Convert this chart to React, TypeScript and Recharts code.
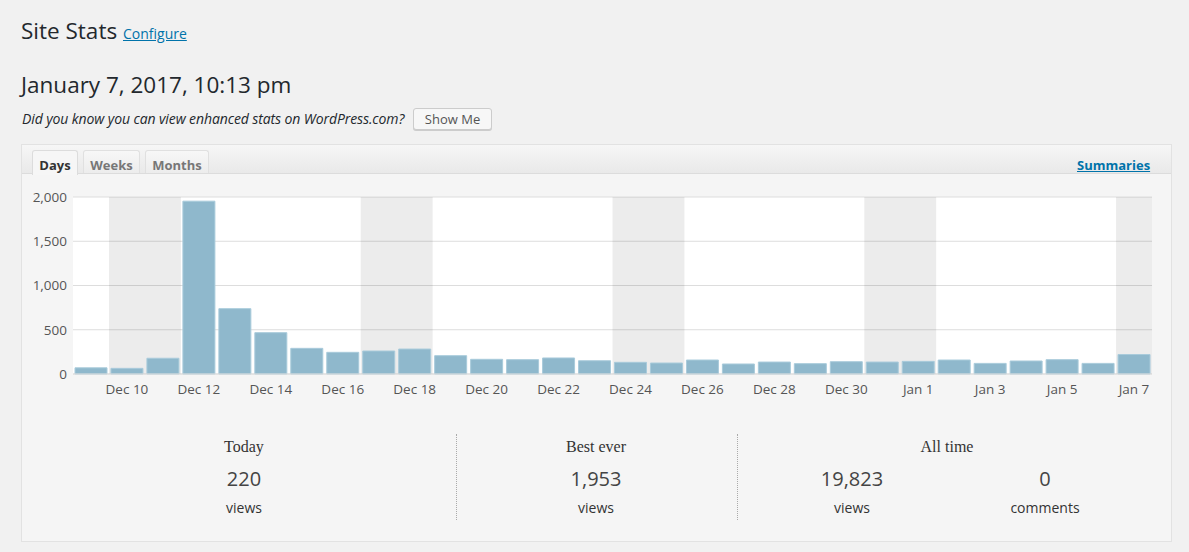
import React from 'react';
import { BarChart, Bar, XAxis, YAxis, CartesianGrid, ReferenceArea } from 'recharts';

const dayLabels = [
  'Dec 9', 'Dec 10', 'Dec 11', 'Dec 12', 'Dec 13', 'Dec 14', 'Dec 15', 'Dec 16', 'Dec 17', 'Dec 18',
  'Dec 19', 'Dec 20', 'Dec 21', 'Dec 22', 'Dec 23', 'Dec 24', 'Dec 25', 'Dec 26', 'Dec 27', 'Dec 28',
  'Dec 29', 'Dec 30', 'Dec 31', 'Jan 1', 'Jan 2', 'Jan 3', 'Jan 4', 'Jan 5', 'Jan 6', 'Jan 7',
];
const views = [
  70, 64, 178, 1953, 738, 467, 290, 245, 260, 282,
  207, 166, 162, 181, 150, 132, 124, 158, 113, 135,
  117, 139, 135, 143, 158, 120, 147, 162, 120, 220,
];
const weekendStart = ['Dec 10', 'Dec 17', 'Dec 24', 'Dec 31', 'Jan 7'];
const weekendEnd = ['Dec 11', 'Dec 18', 'Dec 25', 'Jan 1', 'Jan 7'];
const yTicks = [0, 500, 1000, 1500, 2000];

const statLabels = ['Today', 'Best ever', 'All time'];
const statNumbers = ['220', '1,953', '19,823', '0'];
const statUnits = ['views', 'views', 'views', 'comments'];

const data = dayLabels.map((d, i) => ({ day: d, views: views[i] }));

const sans = '"Open Sans", "DejaVu Sans", sans-serif';
const serif = '"Liberation Serif", "DejaVu Serif", serif';

const abs = (x: number, y: number, extra: React.CSSProperties = {}): React.CSSProperties => ({
  position: 'absolute', left: x, top: y, ...extra,
});

const centerText = (cx: number, top: number, text: string, style: React.CSSProperties) => (
  <div style={{ position: 'absolute', left: cx - 150, top, width: 300, textAlign: 'center', whiteSpace: 'nowrap', ...style }}>{text}</div>
);

export default function App() {
  return (
    <div style={{ position: 'absolute', left: 0, top: 0, width: 1189, height: 552, background: '#f1f1f1', fontFamily: sans, color: '#23282d', overflow: 'hidden' }}>
      {/* Title */}
      <div style={abs(21, 16, { fontSize: 22.5, lineHeight: '30px', whiteSpace: 'nowrap' })}>
        Site Stats{' '}
        <a href="#" style={{ fontSize: 14, color: '#0073aa', textDecoration: 'underline' }}>Configure</a>
      </div>
      <div style={abs(21, 70, { fontSize: 22.5, lineHeight: '30px', whiteSpace: 'nowrap' })}>January 7, 2017, 10:13 pm</div>
      <div style={abs(22, 109, { fontSize: 14, fontStyle: 'italic', lineHeight: '20px', whiteSpace: 'nowrap', letterSpacing: -0.1 })}>
        Did you know you can view enhanced stats on WordPress.com?
      </div>
      <div style={abs(413, 108, { width: 77, height: 20, border: '1px solid #ccc', borderRadius: 3, background: '#f7f7f7', boxShadow: '0 1px 0 #ccc', fontSize: 13, lineHeight: '20px', textAlign: 'center', color: '#555' })}>
        Show Me
      </div>

      {/* Panel */}
      <div style={abs(21, 144, { width: 1149, height: 396, border: '1px solid #e2e2e2', background: '#f5f5f5' })} />
      <div style={abs(22, 145, { width: 1149, height: 28, background: 'linear-gradient(#f6f6f6, #e9e9e9)', borderBottom: '1px solid #dcdcdc' })} />
      {/* Tabs */}
      <div style={abs(32, 150, { width: 44, height: 24, background: '#f6f6f6', border: '1px solid #dcdcdc', borderBottom: 'none', borderRadius: '3px 3px 0 0', fontSize: 13, fontWeight: 700, color: '#333', textAlign: 'center', lineHeight: '28px' })}>Days</div>
      <div style={abs(83, 150, { width: 55, height: 22, background: 'linear-gradient(#f7f7f7, #ececec)', border: '1px solid #e0e0e0', borderBottom: 'none', borderRadius: '3px 3px 0 0', fontSize: 13, fontWeight: 700, color: '#777', textAlign: 'center', lineHeight: '28px' })}>Weeks</div>
      <div style={abs(145, 150, { width: 62, height: 22, background: 'linear-gradient(#f7f7f7, #ececec)', border: '1px solid #e0e0e0', borderBottom: 'none', borderRadius: '3px 3px 0 0', fontSize: 13, fontWeight: 700, color: '#777', textAlign: 'center', lineHeight: '28px' })}>Months</div>
      <a href="#" style={abs(1077, 156, { fontSize: 13, fontWeight: 700, color: '#0073aa', textDecoration: 'underline', whiteSpace: 'nowrap', lineHeight: '18px' })}>Summaries</a>

      {/* Chart */}
      <div style={abs(23, 185)}>
        <BarChart
          width={1139}
          height={215}
          data={data}
          margin={{ top: 12, right: 10, left: 0, bottom: 0 }}
          barCategoryGap={2}
          style={{ fontFamily: sans }}
        >
          <CartesianGrid vertical={false} stroke="#dddddd" fill="#ffffff" fillOpacity={1} />
          {weekendStart.map((s, i) => (
            <ReferenceArea key={s} x1={s} x2={weekendEnd[i]} y1={0} y2={2000} fill="#000000" fillOpacity={0.075} stroke="none" ifOverflow="visible" />
          ))}
          <XAxis
            dataKey="day"
            interval={0}
            height={26}
            tickLine={false}
            tickSize={0}
            tickMargin={10}
            axisLine={{ stroke: '#dddddd' }}
            tick={{ fill: '#555', fontSize: 13.5 }}
            tickFormatter={(v: string, i: number) => (i % 2 === 1 ? v : '')}
          />
          <YAxis
            width={50}
            domain={[0, 2000]}
            ticks={yTicks}
            tickLine={false}
            tickSize={0}
            tickMargin={6}
            axisLine={false}
            tick={{ fill: '#555', fontSize: 13.5 }}
            tickFormatter={(v: number) => v.toLocaleString('en-US')}
          />
          <Bar dataKey="views" fill="#8fb8cc" stroke="#a9cbdb" strokeWidth={1} isAnimationActive={false} />
        </BarChart>
      </div>

      {/* Stats */}
      <div style={abs(456, 434, { width: 0, height: 86, borderLeft: '1px dotted #aaa' })} />
      <div style={abs(737, 434, { width: 0, height: 86, borderLeft: '1px dotted #aaa' })} />
      {centerText(244, 438, statLabels[0], { fontFamily: serif, fontSize: 16, color: '#333' })}
      {centerText(596, 438, statLabels[1], { fontFamily: serif, fontSize: 16, color: '#333' })}
      {centerText(947, 438, statLabels[2], { fontFamily: serif, fontSize: 16, color: '#333' })}
      {centerText(244, 465, statNumbers[0], { fontSize: 20, color: '#444' })}
      {centerText(596, 465, statNumbers[1], { fontSize: 20, color: '#444' })}
      {centerText(852, 465, statNumbers[2], { fontSize: 20, color: '#444' })}
      {centerText(1045, 465, statNumbers[3], { fontSize: 20, color: '#444' })}
      {centerText(244, 498, statUnits[0], { fontSize: 14, color: '#333' })}
      {centerText(596, 498, statUnits[1], { fontSize: 14, color: '#333' })}
      {centerText(852, 498, statUnits[2], { fontSize: 14, color: '#333' })}
      {centerText(1045, 498, statUnits[3], { fontSize: 14, color: '#333' })}
    </div>
  );
}
